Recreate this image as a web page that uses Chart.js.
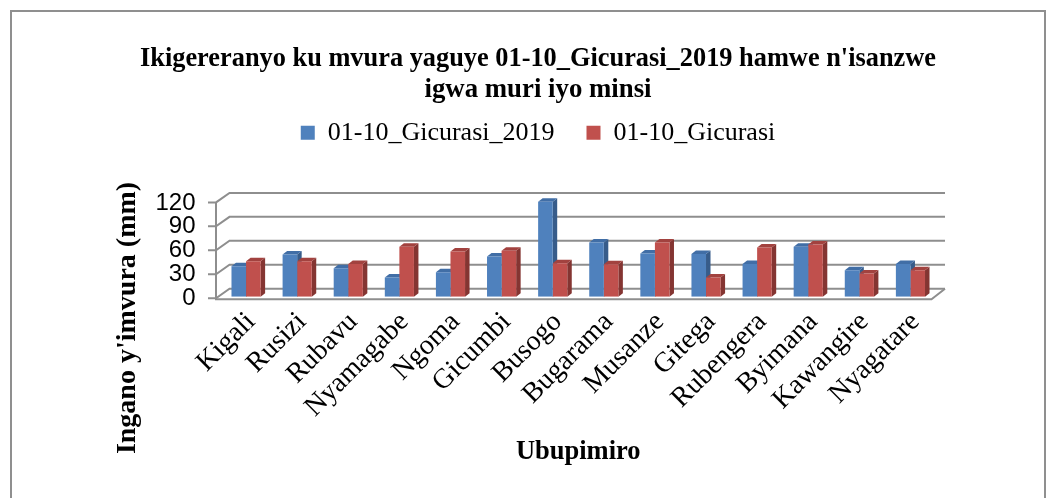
<!DOCTYPE html>
<html lang="en">
<head>
<meta charset="UTF-8">
<title>Ikigereranyo ku mvura</title>
<script src="https://cdn.jsdelivr.net/npm/chart.js"></script>
<style>
  body { margin: 0; background: #fff; }
  .frame {
    position: absolute; left: 10px; top: 10px;
    width: 1036px; height: 520px;
    border: 2px solid #8f8f8f; box-sizing: border-box;
  }
  .wrap { position: absolute; left: 0; top: 0; width: 1050px; height: 498px; }
</style>
</head>
<body>
<div class="frame"></div>
<div class="wrap"><canvas id="rainChart"></canvas></div>

<script>
// stations (Ubupimiro)
const stations = ['Kigali', 'Rusizi', 'Rubavu', 'Nyamagabe', 'Ngoma', 'Gicumbi', 'Busogo',
                  'Bugarama', 'Musanze', 'Gitega', 'Rubengera', 'Byimana', 'Kawangire', 'Nyagatare'];
// rain 01-10 May 2019 (mm)
const rain2019 = [38, 53, 35.5, 24, 30.5, 50.5, 119, 68, 54, 53.5, 41, 62.5, 33, 41];
// normal rain for 01-10 May (mm)
const rainNormal = [44.5, 44.5, 41, 62.5, 56.5, 57.5, 42, 40.5, 68, 24, 61.5, 65.5, 29, 33];
const yTicks = [0, 30, 60, 90, 120];

const frontColors = ['#4f81bd', '#c0504d'];
const sideColors = ['#375c8a', '#843532'];
const topColors = ['#416ea6', '#a2423f'];
const gridColor = '#8e8e8e';

// fake 3d: frame walls + bar side/top faces
const depth3d = {
  id: 'depth3d',
  beforeDatasetsDraw(chart) {
    const {ctx, chartArea: a} = chart;
    const y = chart.scales.y;
    const fx = -4.5, fy = 1.5, bx = 9, by = -8;
    ctx.save();
    ctx.strokeStyle = gridColor;
    ctx.lineWidth = 2;
    yTicks.forEach(v => {
      const py = y.getPixelForValue(v);
      ctx.beginPath();
      ctx.moveTo(a.left - 12.5, py + fy);
      ctx.lineTo(a.left + fx, py + fy);
      ctx.lineTo(a.left + bx, py + by);
      ctx.lineTo(a.right + bx, py + by);
      ctx.stroke();
    });
    const y0 = y.getPixelForValue(0);
    const yMax = y.getPixelForValue(yTicks[yTicks.length - 1]);
    ctx.beginPath();
    ctx.moveTo(a.left + fx, yMax + fy);
    ctx.lineTo(a.left + fx, y0 + fy + 1);
    ctx.lineTo(a.right + fx, y0 + fy + 1);
    ctx.lineTo(a.right + bx, y0 + by);
    ctx.stroke();

    const dx = 4.5, dy = 3.5;
    chart.data.datasets.forEach((ds, i) => {
      chart.getDatasetMeta(i).data.forEach(bar => {
        const p = bar.getProps(['x', 'y', 'base', 'width'], true);
        const l = p.x - p.width / 2, r = p.x + p.width / 2;
        ctx.fillStyle = sideColors[i];
        ctx.beginPath();
        ctx.moveTo(r, p.y);
        ctx.lineTo(r + dx, p.y - dy);
        ctx.lineTo(r + dx, p.base - dy);
        ctx.lineTo(r, p.base);
        ctx.closePath();
        ctx.fill();
        ctx.fillStyle = topColors[i];
        ctx.beginPath();
        ctx.moveTo(l, p.y);
        ctx.lineTo(l + dx, p.y - dy);
        ctx.lineTo(r + dx, p.y - dy);
        ctx.lineTo(r, p.y);
        ctx.closePath();
        ctx.fill();
      });
    });
    ctx.restore();
  },
  afterDraw(chart) {
    const ctx = chart.ctx;
    ctx.save();
    ctx.translate(128, 318);
    ctx.rotate(-Math.PI / 2);
    ctx.font = 'bold 28px "Liberation Serif"';
    ctx.fillStyle = '#000';
    ctx.textAlign = 'center';
    ctx.textBaseline = 'middle';
    ctx.fillText("Ingano y'imvura (mm)", 0, 0);
    ctx.restore();
  }
};

const serif = 'Liberation Serif';

new Chart(document.getElementById('rainChart'), {
  type: 'bar',
  data: {
    labels: stations,
    datasets: [
      { label: '01-10_Gicurasi_2019', data: rain2019, backgroundColor: frontColors[0] },
      { label: '01-10_Gicurasi', data: rainNormal, backgroundColor: frontColors[1] }
    ]
  },
  options: {
    responsive: true,
    maintainAspectRatio: false,
    animation: false,
    categoryPercentage: 0.57,
    barPercentage: 1,
    layout: { padding: { left: 140, right: 114, top: 0, bottom: 26.4 } },
    plugins: {
      title: {
        display: true,
        text: ["Ikigereranyo ku mvura yaguye 01-10_Gicurasi_2019 hamwe n'isanzwe",
               'igwa muri iyo minsi'],
        color: '#000',
        font: { family: serif, size: 26.8, weight: 'bold', lineHeight: 1.17 },
        padding: { top: 43, bottom: -18 }
      },
      legend: {
        labels: {
          color: '#000',
          font: { family: serif, size: 26 },
          boxWidth: 14,
          boxHeight: 14,
          padding: 32
        }
      },
      subtitle: {
        // empty spacer between legend and plot
        display: true,
        text: '',
        weight: 500,
        font: { size: 10, lineHeight: 1.2 },
        padding: { top: 33.2, bottom: 0 }
      },
      tooltip: { enabled: false }
    },
    scales: {
      x: {
        grid: { display: false, drawTicks: false },
        border: { display: false },
        ticks: {
          color: '#000',
          font: { family: serif, size: 28 },
          maxRotation: 45,
          minRotation: 45,
          autoSkip: false,
          padding: 9,
          labelOffset: 5
        },
        title: {
          display: true,
          text: 'Ubupimiro',
          color: '#000',
          font: { family: serif, size: 26.5, weight: 'bold' },
          padding: { top: 4, bottom: 4 }
        },
        afterFit(scale) { scale.height = 174.9; }
      },
      y: {
        min: 0,
        max: 120,
        grid: { display: false, drawTicks: false },
        border: { display: false },
        ticks: {
          color: '#000',
          font: { family: 'Liberation Sans', size: 24 },
          padding: 25,
          labelOffset: 2,
          autoSkip: false
        },
        afterBuildTicks(scale) { scale.ticks = yTicks.map(v => ({ value: v })); },
        afterFit(scale) { scale.width = 80.5; }
      }
    }
  },
  plugins: [depth3d]
});
</script>
</body>
</html>
